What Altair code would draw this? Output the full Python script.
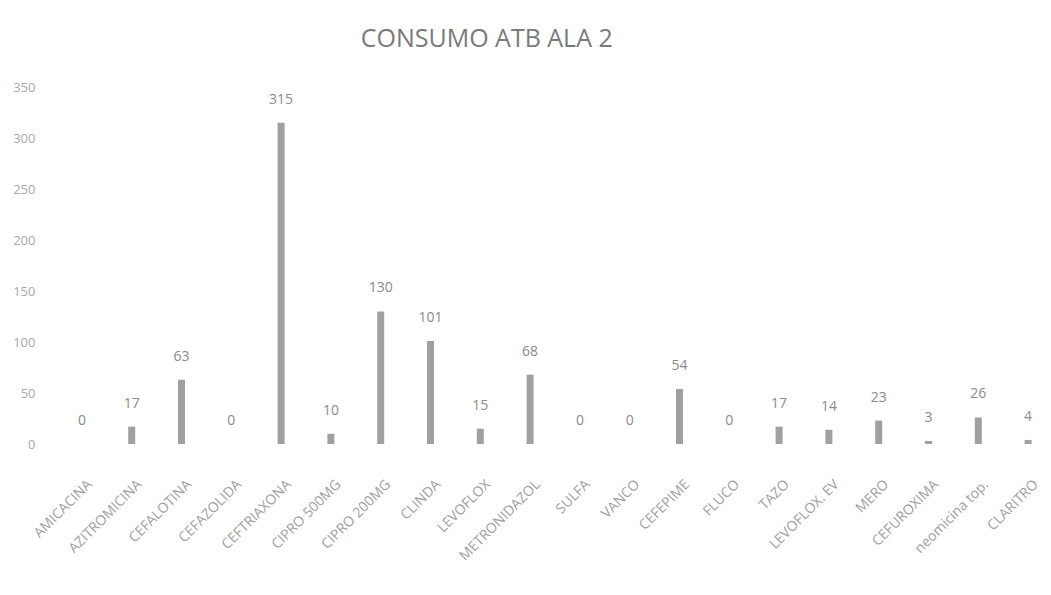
import altair as alt
import pandas as pd

categories = ["AMICACINA", "AZITROMICINA", "CEFALOTINA", "CEFAZOLIDA", "CEFTRIAXONA",
              "CIPRO 500MG", "CIPRO 200MG", "CLINDA", "LEVOFLOX", "METRONIDAZOL",
              "SULFA", "VANCO", "CEFEPIME", "FLUCO", "TAZO", "LEVOFLOX. EV",
              "MERO", "CEFUROXIMA", "neomicina top.", "CLARITRO"]
values = [0, 17, 63, 0, 315, 10, 130, 101, 15, 68, 0, 0, 54, 0, 17, 14, 23, 3, 26, 4]
y_ticks = [0, 50, 100, 150, 200, 250, 300, 350]

df = pd.DataFrame({"cat": categories, "val": values})

FONT = "Open Sans"

x = alt.X("cat:N", sort=categories, title=None,
          scale=alt.Scale(paddingInner=0, paddingOuter=0, range=[4, 1000]),
          axis=alt.Axis(labelAngle=-45, labelAlign="right", labelBaseline="middle",
                        labelPadding=38, labelOffset=8, labelColor="#a0a0a0",
                        labelFontSize=14, labelFont=FONT, ticks=False, domain=False,
                        labelOverlap=False, labelLimit=200))
y = alt.Y("val:Q", title=None,
          scale=alt.Scale(domain=[0, 350], nice=False),
          axis=alt.Axis(values=y_ticks, labelColor="#a8a8a8", labelFontSize=13,
                        labelFont=FONT, ticks=False, domain=False, grid=False,
                        labelPadding=18))

bars = alt.Chart(df).mark_bar(size=7, color="#a0a0a0").encode(x=x, y=y)
labels = alt.Chart(df).mark_text(dy=-23, fontSize=14, font=FONT, color="#8a8a8a").encode(
    x=x, y=y, text=alt.Text("val:Q"))

chart = (bars + labels).properties(
    width=980, height=357,
    autosize=alt.AutoSizeParams(type="none"),
    padding={"left": 45, "top": 79, "right": 10, "bottom": 151},
    title=alt.TitleParams("CONSUMO ATB ALA 2", anchor="start", dx=348, offset=29,
                          fontSize=25, font=FONT, fontWeight="normal", color="#7a7a7a"),
).configure_view(stroke=None)

chart.save("out.html", embed_options={"renderer": "svg", "actions": False})
